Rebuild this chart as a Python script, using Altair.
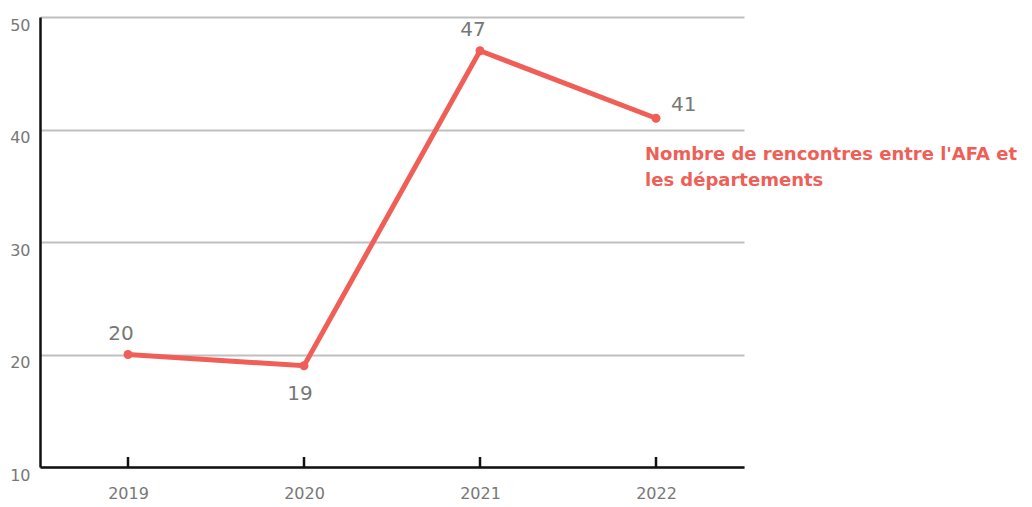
import altair as alt
import pandas as pd

years = ["2019", "2020", "2021", "2022"]
values = [20, 19, 47, 41]
label_pos = ["above", "below", "above", "right"]
series_lines = ["Nombre de rencontres entre l'AFA et", "les départements"]
y_ticks = [10, 20, 30, 40, 50]

LINE = "#EF5F58"
GRAY = "#777777"
FONT = "DejaVu Sans"

df = pd.DataFrame({"year": years, "value": values, "pos": label_pos})
df_series = pd.DataFrame({"year": [years[-1]], "value": [values[-1]], "name": ["\n".join(series_lines)]})

x_enc = alt.X("year:O", scale=alt.Scale(type="point", padding=0.5, domain=years),
              axis=alt.Axis(title=None, labelAngle=0, labelColor=GRAY, labelFontSize=16, labelFont=FONT,
                            domainColor="#111111", domainWidth=2.5, ticks=False, labelPadding=18, grid=False))
y_enc = alt.Y("value:Q", scale=alt.Scale(domain=[10, 50], nice=False, zero=False),
              axis=alt.Axis(title=None, values=y_ticks, labelColor=GRAY, labelFontSize=16, labelFont=FONT,
                            labelBaseline="top", labelPadding=10, ticks=False,
                            domainColor="#111111", domainWidth=2.5,
                            grid=True, gridColor="#BFBFBF", gridWidth=2))

base = alt.Chart(df)

line = base.mark_line(color=LINE, strokeWidth=5).encode(x=x_enc, y=y_enc)
pts = base.mark_point(color=LINE, filled=True, opacity=1, size=80).encode(x="year:O", y="value:Q")

ticks = base.mark_rule(color="#111111", strokeWidth=2.5).encode(
    x="year:O", y=alt.value(450), y2=alt.value(440))

above = base.transform_filter(alt.datum.pos == "above").mark_text(
    color=GRAY, fontSize=20, font=FONT, dx=-7, dy=-21).encode(x="year:O", y="value:Q", text="value:Q")
below = base.transform_filter(alt.datum.pos == "below").mark_text(
    color=GRAY, fontSize=20, font=FONT, dx=-4, dy=28).encode(x="year:O", y="value:Q", text="value:Q")
right = base.transform_filter(alt.datum.pos == "right").mark_text(
    color=GRAY, fontSize=20, font=FONT, align="left", dx=15, dy=-13).encode(x="year:O", y="value:Q", text="value:Q")

series = alt.Chart(df_series).mark_text(
    color=LINE, fontSize=18, font=FONT, fontWeight="bold", align="left", baseline="middle",
    dx=-11, dy=37, lineBreak="\n", lineHeight=26).encode(x="year:O", y="value:Q", text="name:N")

chart = alt.layer(line, ticks, pts, above, below, right, series).properties(
    width=704, height=450,
    autosize=alt.AutoSizeParams(type="none"),
    padding={"left": 32, "top": 9, "right": 280, "bottom": 40},
).configure_view(stroke=None)

chart.save("out.html", embed_options={"renderer": "svg", "actions": False})
